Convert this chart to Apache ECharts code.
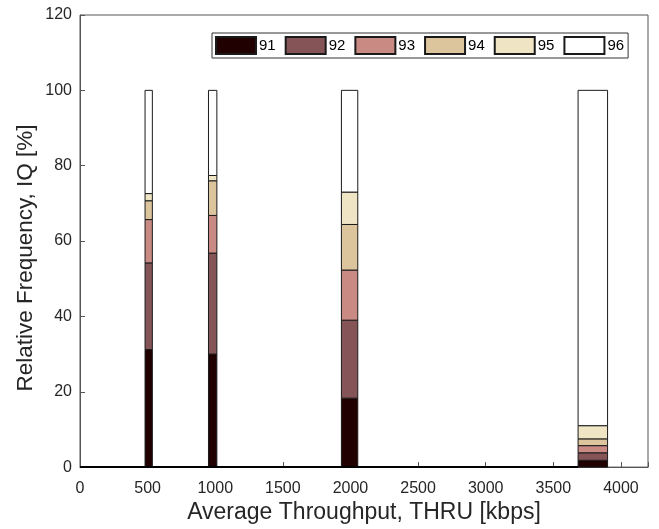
<!DOCTYPE html>
<html>
<head>
<meta charset="utf-8">
<script src="https://cdn.jsdelivr.net/npm/echarts@6/dist/echarts.min.js"></script>
<style>html,body{margin:0;padding:0;background:#fff}#c{width:659px;height:529px}</style>
</head>
<body>
<div id="c"></div>
<script>
// Histogram bins (kbps) with non-zero counts
const binLeft  = [481, 950, 1933, 3683];
const binRight = [535, 1012, 2054, 3901];
// Empty bins span (zero-height bars drawn along the baseline)
const emptyBinsRange = [0, 3683];
// Relative frequency per IQ class [%]
const iqNames = ['91', '92', '93', '94', '95', '96'];
const s91 = [31.2, 30.0, 18.3, 1.8];
const s92 = [23.0, 26.8, 20.7, 2.0];
const s93 = [11.5, 10.0, 13.3, 1.9];
const s94 = [5.0, 9.2, 12.1, 1.8];
const s95 = [1.9, 1.4, 8.6, 3.5];
const s96 = [27.4, 22.6, 27.0, 89.0];
const xTicks = [0, 500, 1000, 1500, 2000, 2500, 3000, 3500, 4000];
const yTicks = [0, 20, 40, 60, 80, 100, 120];

const colors = ['#200000', '#845456', '#c98a84', '#dcc49c', '#efe4c4', '#ffffff'];
const allSeries = [s91, s92, s93, s94, s95, s96];
const FONT = 'Liberation Sans, Arial, Helvetica, sans-serif';

const cum = binLeft.map(() => 0);
const series = allSeries.map((vals, k) => {
  const data = vals.map((v, i) => {
    const base = cum[i];
    cum[i] += v;
    return [binLeft[i], binRight[i], base, cum[i]];
  });
  return {
    name: iqNames[k],
    type: 'custom',
    itemStyle: { color: colors[k], borderColor: '#1a1a1a', borderWidth: 1 },
    encode: { x: [0, 1], y: [2, 3] },
    renderItem: function (params, api) {
      const p1 = api.coord([api.value(0), api.value(3)]);
      const p2 = api.coord([api.value(1), api.value(2)]);
      return {
        type: 'rect',
        shape: { x: p1[0], y: p1[1], width: p2[0] - p1[0], height: p2[1] - p1[1] },
        style: { fill: colors[k], stroke: '#1a1a1a', lineWidth: 1 }
      };
    },
    data: data,
    z: 3
  };
});

series.push({
  type: 'line',
  data: [[emptyBinsRange[0], 0], [emptyBinsRange[1], 0]],
  symbol: 'none',
  lineStyle: { color: '#000', width: 2 },
  silent: true,
  z: 4
});

const chart = echarts.init(document.getElementById('c'));
chart.setOption({
  animation: false,
  backgroundColor: '#fff',
  grid: { left: 80, right: 11, top: 15, bottom: 57, show: true, borderColor: '#555', borderWidth: 1, backgroundColor: 'transparent' },
  legend: {
    data: iqNames,
    left: 212, top: 33,
    orient: 'horizontal',
    itemWidth: 40, itemHeight: 17, itemGap: 9,
    padding: [3, 4, 3, 3],
    borderColor: '#333', borderWidth: 1,
    backgroundColor: '#fff',
    icon: 'rect',
    textStyle: { fontFamily: FONT, fontSize: 15, color: '#000', padding: [0, 0, 0, -2] }
  },
  graphic: [{
    type: 'text',
    x: 26, y: 258,
    rotation: Math.PI / 2,
    style: {
      text: 'Relative Frequency, IQ [%]',
      font: '22.5px ' + FONT,
      fill: '#262626',
      align: 'center',
      verticalAlign: 'middle'
    }
  }],
  xAxis: {
    type: 'value', min: 0, max: 4200, interval: 500,
    name: 'Average Throughput, THRU [kbps]', nameLocation: 'middle', nameGap: 31,
    nameTextStyle: { fontFamily: FONT, fontSize: 23, color: '#262626' },
    axisLine: { show: true, lineStyle: { color: '#555' } },
    axisTick: { show: true, inside: true, length: 5, lineStyle: { color: '#555' } },
    axisLabel: { fontFamily: FONT, fontSize: 16, color: '#262626', margin: 13,
      formatter: v => xTicks.includes(v) ? String(v) : '' },
    splitLine: { show: false }
  },
  yAxis: {
    type: 'value', min: 0, max: 120, interval: 20,
    axisLine: { show: true, lineStyle: { color: '#555' } },
    axisTick: { show: true, inside: true, length: 5, lineStyle: { color: '#555' } },
    axisLabel: { fontFamily: FONT, fontSize: 16, color: '#262626', margin: 8,
      formatter: v => yTicks.includes(v) ? String(v) : '' },
    splitLine: { show: false }
  },
  series: series
});
</script>
</body>
</html>
